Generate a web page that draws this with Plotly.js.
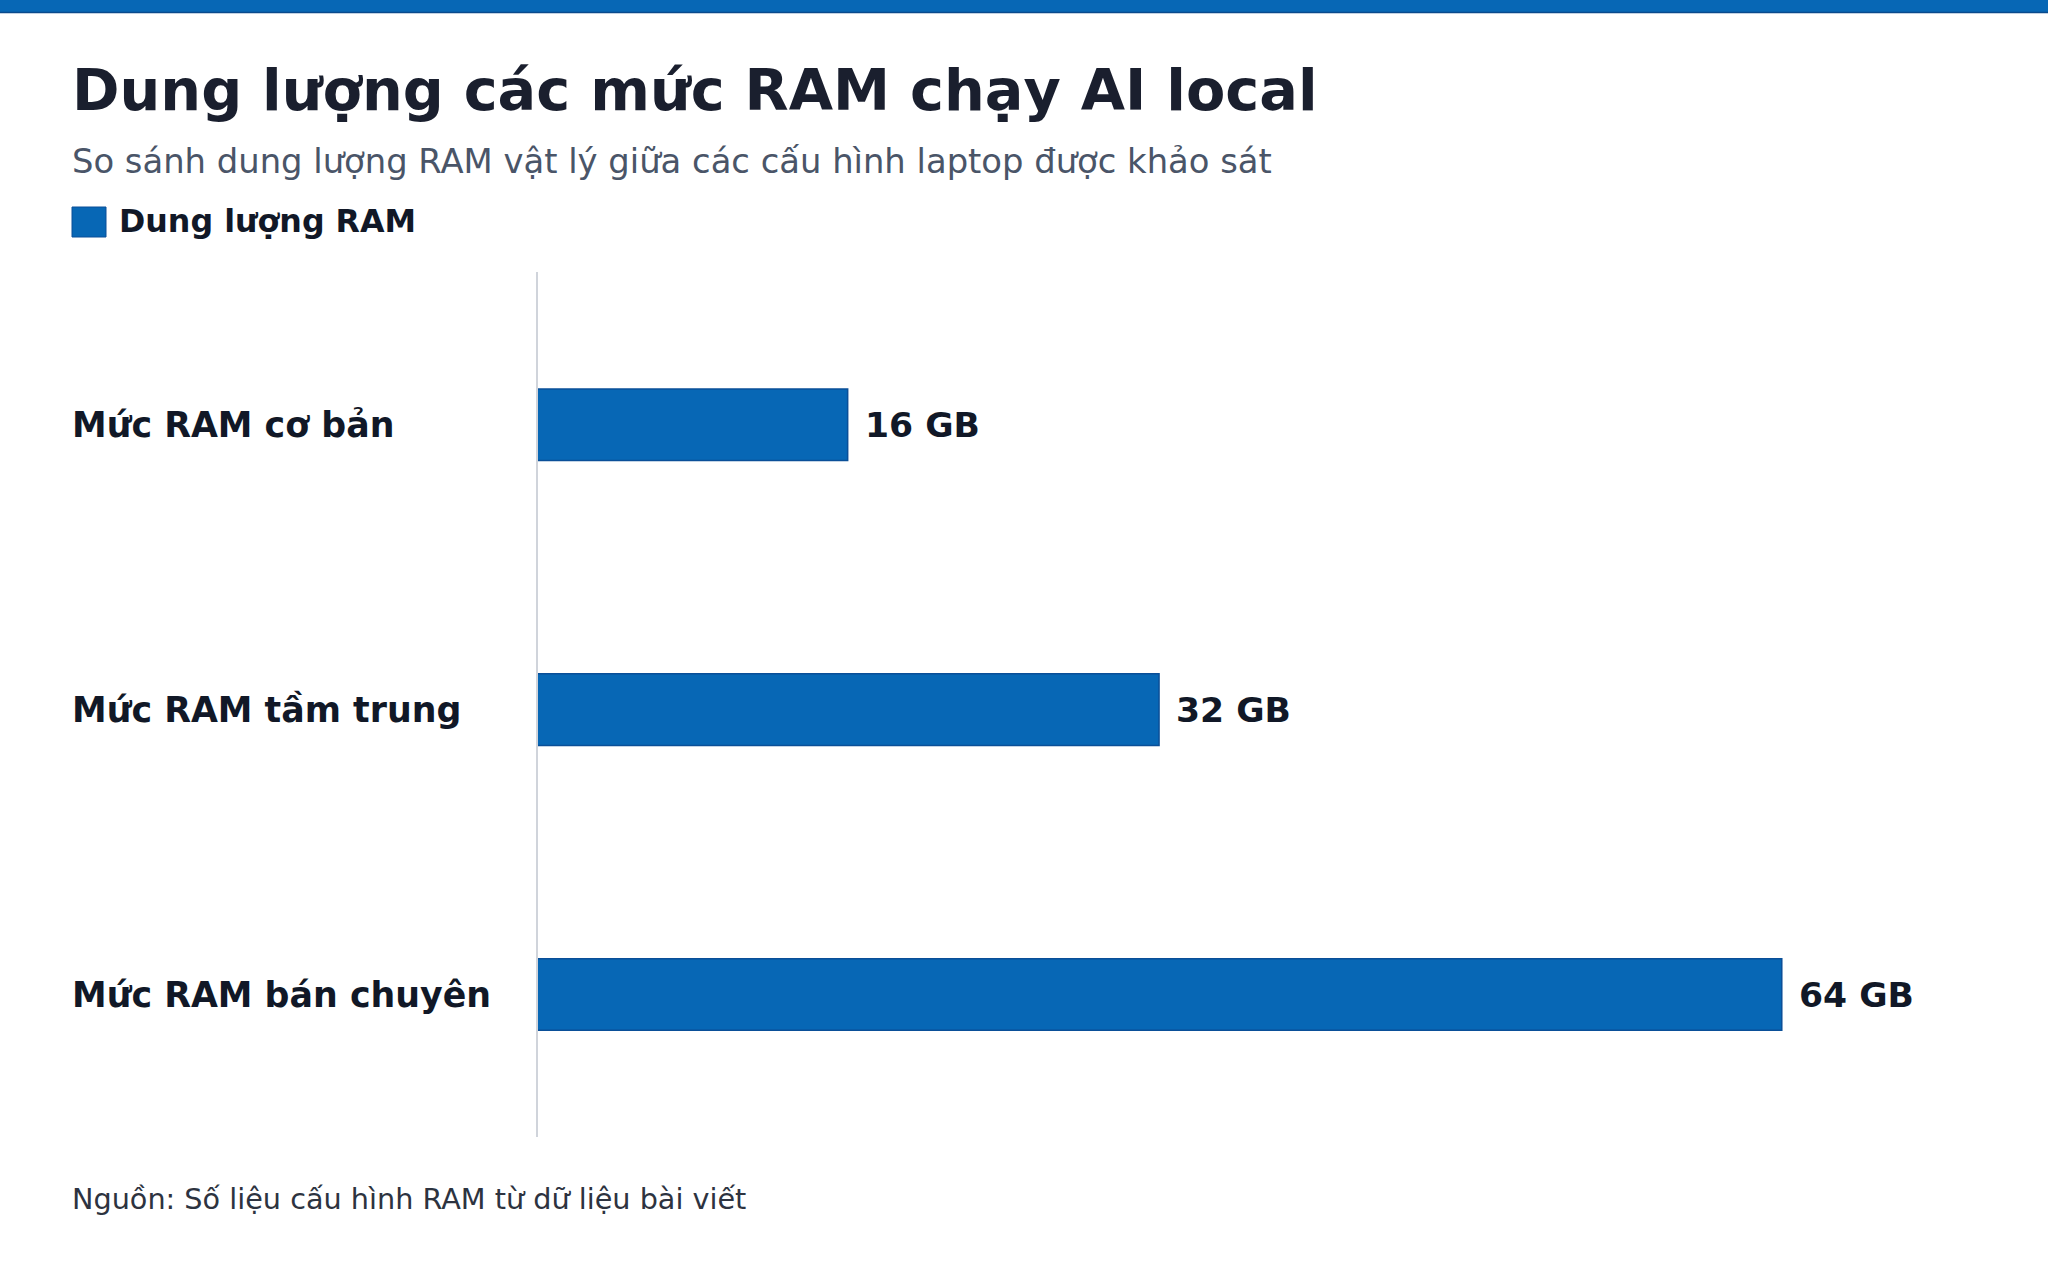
<!DOCTYPE html>
<html>
<head>
<meta charset="utf-8">
<script src="https://cdn.plot.ly/plotly-3.0.1.min.js"></script>
<style>
  html, body { margin: 0; padding: 0; background: #ffffff; }
  #ram-chart { width: 2048px; height: 1280px; }
</style>
</head>
<body>
<div id="ram-chart"></div>
<script>
var categories = ['Mức RAM cơ bản', 'Mức RAM tầm trung', 'Mức RAM bán chuyên'];
var ramGB = [16, 32, 64];
var valueLabels = ['16 GB', '32 GB', '64 GB'];
var seriesName = 'Dung lượng RAM';

var blue = '#0767b5';
var fontFamily = '"DejaVu Sans", Verdana, sans-serif';

// plot area in page pixels, used to place the text that sits outside it
var W = 2048, H = 1280;
var plotL = 538, plotR = 1976, plotT = 272, plotB = 1137;
var textLeft = 69.5; // annotations carry a small inner pad
function px(x) { return (x - plotL) / (plotR - plotL); }
function py(y) { return (plotB - y) / (plotB - plotT); }

var trace1 = {
    x: ramGB,
    y: categories,
    name: seriesName,
    type: 'bar',
    orientation: 'h',
    marker: {
        color: blue,
        line: { color: '#0a4f98', width: 1.5 }
    },
    hoverinfo: 'skip',
    showlegend: false
};

var annotations = [];

// category labels, left aligned against the page margin
categories.forEach(function (c) {
    annotations.push({
        xref: 'paper', yref: 'y',
        x: px(textLeft), y: c,
        xanchor: 'left', yanchor: 'middle',
        text: c, showarrow: false,
        font: { family: fontFamily, size: 34.8, weight: 700, color: '#111827' }
    });
});

// value labels at the bar ends
ramGB.forEach(function (v, i) {
    annotations.push({
        xref: 'x', yref: 'y',
        x: v, y: categories[i],
        xanchor: 'left', yanchor: 'middle', xshift: 15,
        text: valueLabels[i], showarrow: false,
        font: { family: fontFamily, size: 34.6, weight: 700, color: '#111827' }
    });
});

// subtitle
annotations.push({
    xref: 'paper', yref: 'paper',
    x: px(textLeft), y: py(162),
    xanchor: 'left', yanchor: 'middle',
    text: 'So sánh dung lượng RAM vật lý giữa các cấu hình laptop được khảo sát',
    showarrow: false,
    font: { family: fontFamily, size: 33.8, color: '#4a5568' }
});

// legend text
annotations.push({
    xref: 'paper', yref: 'paper',
    x: px(117), y: py(221),
    xanchor: 'left', yanchor: 'middle',
    text: seriesName, showarrow: false,
    font: { family: fontFamily, size: 31.7, weight: 700, color: '#111827' }
});

// source note
annotations.push({
    xref: 'paper', yref: 'paper',
    x: px(textLeft), y: py(1199),
    xanchor: 'left', yanchor: 'middle',
    text: 'Nguồn: Số liệu cấu hình RAM từ dữ liệu bài viết', showarrow: false,
    font: { family: fontFamily, size: 28.7, color: '#2d3340' }
});

var shapes = [
    // top band
    {
        type: 'rect', xref: 'paper', yref: 'paper', layer: 'above',
        x0: px(0), x1: px(W), y0: py(12), y1: py(0),
        fillcolor: blue, line: { width: 0 }
    },
    {
        type: 'line', xref: 'paper', yref: 'paper',
        x0: px(0), x1: px(W), y0: py(12.5), y1: py(12.5),
        line: { color: '#0a4a8c', width: 1.5 }
    },
    // legend swatch
    {
        type: 'rect', xref: 'paper', yref: 'paper',
        x0: px(72), x1: px(106), y0: py(237), y1: py(207),
        fillcolor: blue, line: { color: '#0a4f98', width: 1 }
    }
];

var layout = {
    width: W,
    height: H,
    paper_bgcolor: '#ffffff',
    plot_bgcolor: '#ffffff',
    font: { family: fontFamily, size: 28, color: '#111827' },
    title: {
        text: 'Dung lượng các mức RAM chạy AI local',
        xref: 'container', yref: 'container',
        x: 72 / W, y: 1 - 90 / H,
        xanchor: 'left', yanchor: 'middle',
        font: { family: fontFamily, size: 57.3, weight: 700, color: '#1a1f2e' }
    },
    margin: { l: plotL, r: W - plotR, t: plotT, b: H - plotB, pad: 0 },
    bargap: 0.749,
    showlegend: false,
    xaxis: {
        visible: false,
        range: [0.087, 73.98],
        fixedrange: true
    },
    yaxis: {
        type: 'category',
        range: [2.5, -0.536],
        showline: true,
        linecolor: '#d0d4db',
        linewidth: 1.5,
        showgrid: false,
        zeroline: false,
        ticks: '',
        showticklabels: false,
        fixedrange: true
    },
    annotations: annotations,
    shapes: shapes
};

var config = { displayModeBar: false, responsive: false };

Plotly.newPlot('ram-chart', [trace1], layout, config);
</script>
</body>
</html>
